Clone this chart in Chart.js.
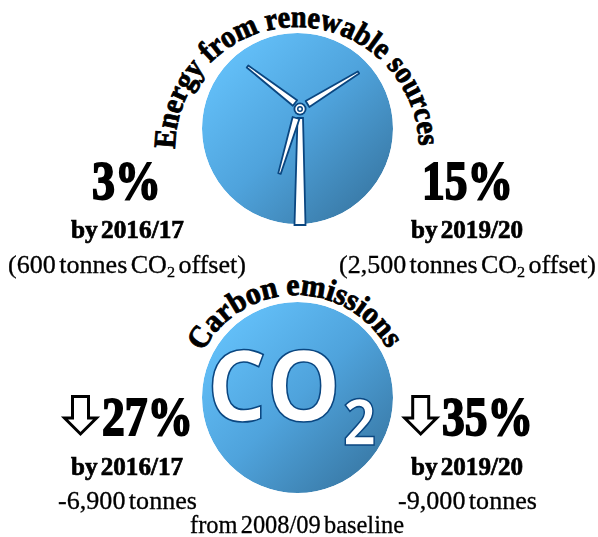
<!DOCTYPE html>
<html>
<head>
<meta charset="utf-8">
<script src="https://cdn.jsdelivr.net/npm/chart.js@4"></script>
<style>
  html, body { margin:0; padding:0; background:#fff; }
  #wrap { position:relative; width:598px; height:537px; overflow:hidden; }
  svg { position:absolute; left:0; top:0; }
  canvas { position:absolute; border-radius:50%; box-shadow:0 0 0 2px #fff; }
  #windCircle { left:202px; top:33px; }
  #co2Circle { left:202px; top:302px; }
  text { font-family:"Liberation Serif", serif; fill:#000; }
</style>
</head>
<body>
<div id="wrap">
  <svg id="titles" width="598" height="537"></svg>
  <canvas id="windCircle" width="191" height="191"></canvas>
  <canvas id="co2Circle" width="191" height="191"></canvas>
  <svg id="labels" width="598" height="537"></svg>
</div>
<script>
// chart content
const titles = ["Energy from renewable sources", "Carbon emissions"];
const years = ["by 2016/17", "by 2019/20"];
const renewablePct = [3, 15];
const renewableOffset = ["(600 tonnes CO", "(2,500 tonnes CO"];
const carbonPct = [27, 35];
const carbonTonnes = ["-6,900 tonnes", "-9,000 tonnes"];
const baselineNote = "from 2008/09 baseline";
const circleShare = [100];

const NS = "http://www.w3.org/2000/svg";
const titleSvg = document.getElementById("titles");
const labelSvg = document.getElementById("labels");
const navy = "#0a4680";

function el(parent, name, attrs) {
  const e = document.createElementNS(NS, name);
  for (const k in attrs) e.setAttribute(k, attrs[k]);
  parent.appendChild(e);
  return e;
}

// the two gradient discs
function disc(id) {
  new Chart(document.getElementById(id), {
    type: "pie",
    data: {
      labels: ["share"],
      datasets: [{
        data: circleShare,
        borderWidth: 0,
        backgroundColor: c => {
          const g = c.chart.ctx.createLinearGradient(28, 28, 163, 163);
          g.addColorStop(0, "#62bef7");
          g.addColorStop(0.5, "#4fa3dc");
          g.addColorStop(1, "#3b7dab");
          return g;
        }
      }]
    },
    options: {
      responsive: false,
      animation: false,
      plugins: { legend: { display: false }, tooltip: { enabled: false } }
    }
  });
}
disc("windCircle");
disc("co2Circle");

// flat text, squeezed to the measured width
function flat(str, x, w, base, size, weight, sub, tail) {
  const t = el(labelSvg, "text", {
    x: x, y: base, "font-size": size, "font-weight": weight > 0.5 ? 700 : 400,
    textLength: w, lengthAdjust: "spacingAndGlyphs",
    stroke: "#000", "stroke-width": weight, style: "word-spacing:-3px"
  });
  t.appendChild(document.createTextNode(str));
  if (sub) {
    el(t, "tspan", { dy: 4, "font-size": size * 0.62 }).textContent = sub;
    el(t, "tspan", { dy: -4 }).textContent = tail;
  }
  return t;
}

// curved headings, the path runs from the first letter's foot to the last one's
function arcTitle(id, str, x0, x1, y, r, size, len, weight) {
  const defs = el(titleSvg, "defs", {});
  el(defs, "path", { id: id, d: `M ${x0} ${y} A ${r} ${r} 0 0 1 ${x1} ${y}` });
  const t = el(titleSvg, "text", { "font-size": size, "font-weight": 700, stroke: "#000", "stroke-width": weight });
  const p = el(t, "textPath", { href: "#" + id, textLength: len, lengthAdjust: "spacingAndGlyphs" });
  p.textContent = str;
}
arcTitle("arcA", titles[0], 175, 419, 149, 122, 31, 380, 0.9);
arcTitle("arcB", titles[1], 203, 389, 352, 104.5, 31, 226, 0.9);

// top figures
flat(renewablePct[0] + "%", 92, 69, 199, 54, 1.9);
flat(renewablePct[1] + "%", 422, 91, 199, 54, 1.9);
flat(years[0], 71, 113, 238, 25, 0.7);
flat(years[1], 411, 112, 238, 25, 0.7);
flat(renewableOffset[0], 8, 238, 273, 25, 0.3, "2", " offset)");
flat(renewableOffset[1], 339, 257, 273, 25, 0.3, "2", " offset)");

// bottom figures
flat(carbonPct[0] + "%", 102, 91, 435, 54, 1.9);
flat(carbonPct[1] + "%", 442, 91, 435, 54, 1.9);
flat(years[0], 71, 112, 475, 25, 0.7);
flat(years[1], 411, 112, 475, 25, 0.7);
flat(carbonTonnes[0], 58, 139, 509, 25, 0.3);
flat(carbonTonnes[1], 398, 139, 509, 25, 0.3);
flat(baselineNote, 190, 214, 533, 25, 0.3);

// down arrows
function arrow(x) {
  el(labelSvg, "path", {
    d: `M ${x + 10} 396.5 H ${x + 26} V 418 H ${x + 34} L ${x + 18} 434 L ${x + 2} 418 H ${x + 10} Z`,
    fill: "#fff", stroke: "#000", "stroke-width": 3
  });
}
arrow(62.5);
arrow(402.7);

// wind turbine
function blade(rx, ry, tx, ty, rw, tw) {
  const len = Math.hypot(tx - rx, ty - ry);
  const nx = -(ty - ry) / len, ny = (tx - rx) / len;
  const d = `M ${rx + nx * rw / 2} ${ry + ny * rw / 2} L ${tx + nx * tw / 2} ${ty + ny * tw / 2} ` +
            `L ${tx - nx * tw / 2} ${ty - ny * tw / 2} L ${rx - nx * rw / 2} ${ry - ny * rw / 2} Z`;
  el(labelSvg, "path", { d: d, fill: "#fff", stroke: navy, "stroke-width": 1.8, "stroke-linejoin": "round" });
}
el(labelSvg, "path", { d: "M 294.5 225 L 297.5 118 L 303 118 L 305.5 225 Z", fill: "#fff", stroke: navy, "stroke-width": 1.8 });
blade(295, 103, 247.5, 66.5, 7, 2.5);
blade(307.5, 104, 358.5, 72.5, 7, 2.5);
blade(296, 118, 279.5, 173.5, 7, 2.5);
el(labelSvg, "circle", { cx: 300, cy: 109, r: 6.5, fill: navy });
el(labelSvg, "circle", { cx: 300, cy: 109, r: 4.7, fill: "#fff" });
el(labelSvg, "circle", { cx: 300, cy: 109, r: 3, fill: navy });
el(labelSvg, "circle", { cx: 300, cy: 109, r: 1.5, fill: "#fff" });

// CO2 letters
const co2 = el(labelSvg, "text", {
  x: 207, y: 421, "font-size": 98, "font-weight": 700,
  style: "font-family:'Open Sans',sans-serif;fill:#fff", stroke: navy, "stroke-width": 1.6,
  textLength: 134, lengthAdjust: "spacingAndGlyphs"
});
co2.textContent = "CO";
const two = el(labelSvg, "text", {
  x: 343, y: 445, "font-size": 65, "font-weight": 700,
  style: "font-family:'Open Sans',sans-serif;fill:#fff", stroke: navy, "stroke-width": 1.6,
  textLength: 33, lengthAdjust: "spacingAndGlyphs"
});
two.textContent = "2";
</script>
</body>
</html>
